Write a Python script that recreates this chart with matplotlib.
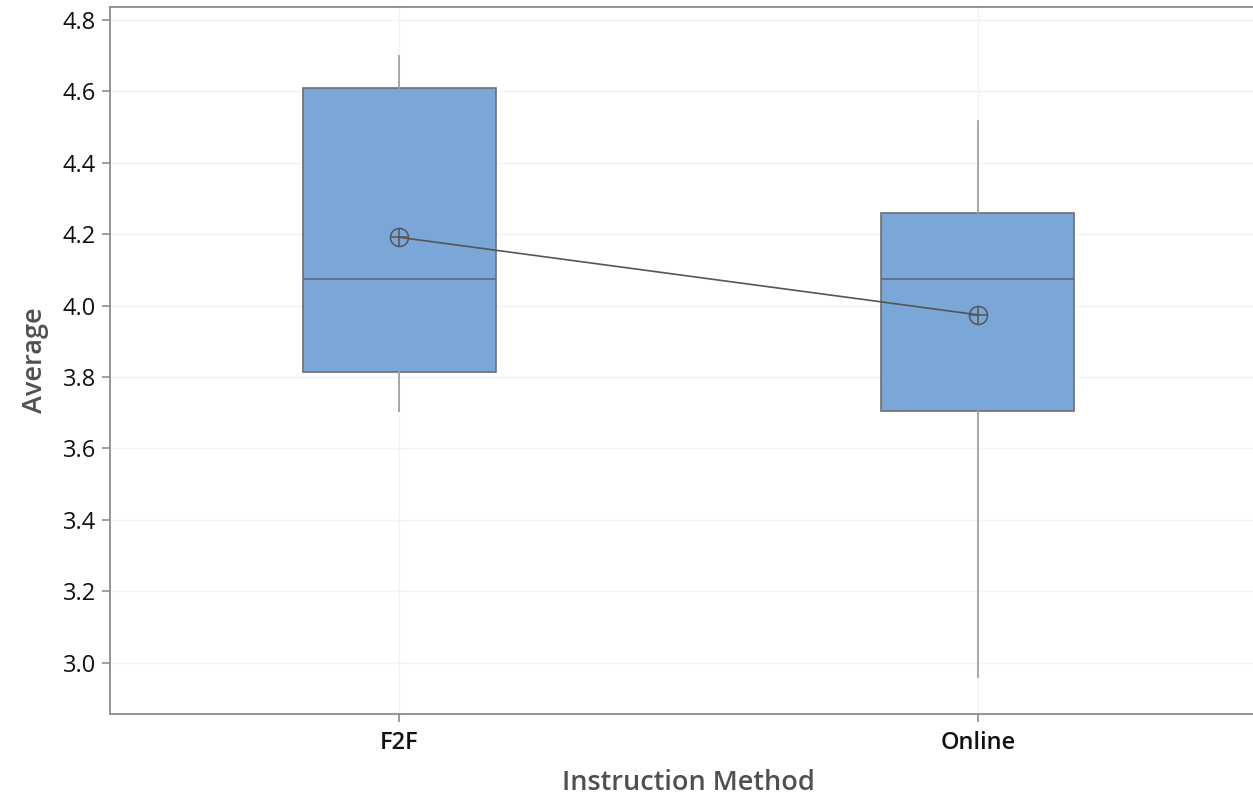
import numpy as np
import matplotlib.pyplot as plt

# Summary values per instruction method
methods = ['F2F', 'Online']
whisker_low = [3.705, 2.96]
q1 = [3.813, 3.705]
median = [4.075, 4.075]
q3 = [4.609, 4.258]
whisker_high = [4.699, 4.517]
means = [4.191, 3.974]

yticks = [3.0, 3.2, 3.4, 3.6, 3.8, 4.0, 4.2, 4.4, 4.6, 4.8]

plt.rcParams['font.family'] = ['Open Sans', 'DejaVu Sans']

fig = plt.figure(figsize=(12.53, 7.97), dpi=100)
ax = fig.add_axes([110 / 1253, 1 - 714 / 797, 1157 / 1253, 707 / 797])

positions = np.arange(1, len(methods) + 1)
stats = []
for i, name in enumerate(methods):
    stats.append({'label': name, 'whislo': whisker_low[i], 'q1': q1[i], 'med': median[i],
                  'q3': q3[i], 'whishi': whisker_high[i], 'mean': means[i], 'fliers': []})

ax.bxp(stats, positions=positions, widths=0.334, patch_artist=True, showcaps=False,
       showmeans=False, showfliers=False, zorder=3,
       boxprops=dict(facecolor='#7ba6d8', edgecolor='#6e6e6e', linewidth=1.2),
       medianprops=dict(color='#5f6b7a', linewidth=1.2),
       whiskerprops=dict(color='#a0a0a0', linewidth=1.3))

# mean connect line and circled-plus symbols
ax.plot(positions, means, color='#555555', linewidth=1.2, zorder=4)
ax.plot(positions, means, linestyle='none', marker='o', markersize=13,
        markerfacecolor='none', markeredgecolor='#555555', markeredgewidth=1.1, zorder=5)
ax.plot(positions, means, linestyle='none', marker='+', markersize=13,
        markeredgecolor='#555555', markeredgewidth=1.1, zorder=5)

ax.set_xlim(0.5, 2.5)
ax.set_ylim(2.856, 4.836)
ax.set_yticks(yticks)
ax.set_yticklabels([f'{v:.1f}' for v in yticks])
ax.set_xticks(positions)
ax.set_xticklabels(methods, fontweight='semibold')

ax.grid(True, color='#f2f2f2', linewidth=1.0, zorder=0)
ax.set_axisbelow(True)
for side in ['left', 'bottom', 'top', 'right']:
    ax.spines[side].set_color('#8c8c8c')
    ax.spines[side].set_linewidth(1.3)

ax.tick_params(axis='both', colors='#8c8c8c', length=6, width=1.2, labelsize=17, labelcolor='#111111')
ax.tick_params(axis='y', pad=4)
ax.tick_params(axis='x', pad=6)

ax.set_xlabel('Instruction Method', fontsize=19.5, color='#505050', fontweight='semibold', labelpad=10)
ax.set_ylabel('Average', fontsize=19.5, color='#505050', fontweight='semibold', labelpad=10)

fig.savefig('out.png', dpi=100)
